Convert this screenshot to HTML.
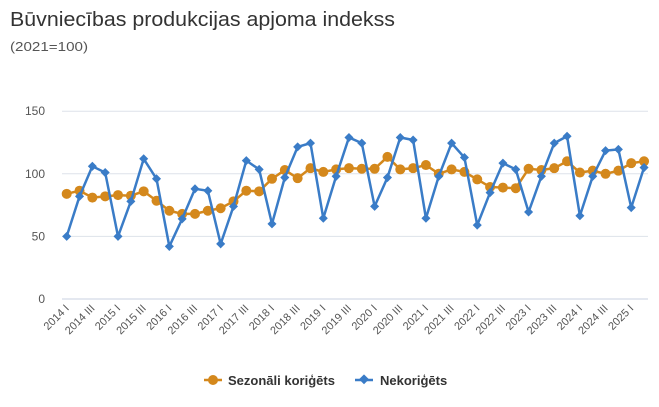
<!DOCTYPE html>
<html><head><meta charset="utf-8"><style>
body{margin:0;background:#fff;font-family:"Liberation Sans",sans-serif}
</style></head><body>
<svg width="659" height="402" xmlns="http://www.w3.org/2000/svg" id="c">
<text x="10" y="26" font-size="20" textLength="385" lengthAdjust="spacingAndGlyphs" fill="#333">Būvniecības produkcijas apjoma indekss</text>
<text x="10" y="51" font-size="12.5" textLength="78" lengthAdjust="spacingAndGlyphs" fill="#555">(2021=100)</text>
<g id="grid"></g><g id="xl"></g><g id="s1"></g><g id="s2"></g>
<g>
<g><line x1="204" y1="380" x2="222" y2="380" stroke="#d4881c" stroke-width="2.5"/><circle cx="213" cy="380" r="5" fill="#d4881c"/><text x="228" y="385" font-size="13" font-weight="bold" fill="#333">Sezonāli koriģēts</text></g>
<g><line x1="355" y1="380" x2="373" y2="380" stroke="#3a7cc7" stroke-width="2.5"/><rect x="360" y="376" width="7" height="7" fill="#3a7cc7" transform="rotate(45 364 380)"/><text x="380" y="385" font-size="13" font-weight="bold" fill="#333">Nekoriģēts</text></g>
</g>
</svg>
<script>
const quarters=[];for(let y=2014;y<=2025;y++)for(const q of ["I","II","III","IV"])quarters.push(y+" "+q);
quarters.length=46;
const seasonal=[84,86.5,81,82,83,82.5,86,78.5,70.5,68,68,70.5,72.5,78,86.5,86,96,103,96.5,104.5,101.5,103.5,104.5,104,104,113.5,103.5,104.5,107,100,103.5,101.5,95.5,89.5,89,88.5,104,103,104.5,110,101,102.5,100,102.5,108.5,110];
const unadjusted=[50,82,106,101,50,78,112,96,42,64,88,86.5,44,74,110.5,103.5,60,97,121.5,124.5,64.5,98,129,124.5,74,97,129,127,64.5,98,124.5,113,59,85,108.5,103.5,69.5,98,124.5,130,66.5,98,118.5,119.5,73,105];
const yTicks=[0,50,100,150];
const X0=66.7,DX=12.83,Y0=299,YS=1.252;
const xs=i=>X0+i*DX, ys=v=>Y0-v*YS, NS="http://www.w3.org/2000/svg";
function mk(t,a,p){const e=document.createElementNS(NS,t);for(const k in a)e.setAttribute(k,a[k]);p.appendChild(e);return e;}
const g=document.getElementById('grid');
yTicks.forEach(v=>{const l=mk('line',{x1:62,x2:648,y1:ys(v),y2:ys(v),stroke:v===0?'#c8d2e0':'#dde2ea','stroke-width':1},g);


const t=mk('text',{x:45,y:ys(v)+4,'text-anchor':'end','font-size':12,fill:'#555'},g);t.textContent=v;

});
const xl=document.getElementById('xl');
quarters.forEach((q,i)=>{if(i%2)return;const x=xs(i)+3,y=309;
const t=mk('text',{x:x,y:y,'text-anchor':'end','font-size':11,fill:'#555',transform:`rotate(-45 ${x} ${y})`},xl);t.textContent=q;

});
function series(data,col,gid,diamond,name){const gg=document.getElementById(gid);
const p=mk('polyline',{points:data.map((v,i)=>xs(i)+','+ys(v)).join(' '),fill:'none',stroke:col,'stroke-width':2.5},gg);


data.forEach((v,i)=>{let m;if(diamond)m=mk('rect',{x:xs(i)-3.2,y:ys(v)-3.2,width:6.4,height:6.4,fill:col,transform:`rotate(45 ${xs(i)} ${ys(v)})`},gg);
else m=mk('circle',{cx:xs(i),cy:ys(v),r:5,fill:col},gg);

});}
series(seasonal,'#d4881c','s1',false,'seasonal');
series(unadjusted,'#3a7cc7','s2',true,'unadjusted');
</script>
</body></html>
